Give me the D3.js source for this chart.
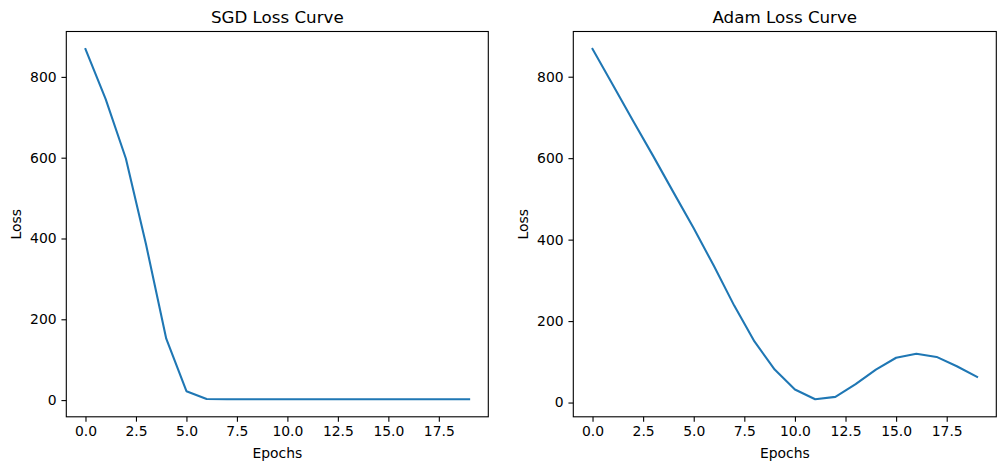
<!DOCTYPE html>
<html>
<head>
<meta charset="utf-8">
<script src="https://cdn.jsdelivr.net/npm/d3@7"></script>
<style>
  html, body { margin: 0; padding: 0; background: #fff; }
  svg { display: block; font-family: "DejaVu Sans", sans-serif; }
</style>
</head>
<body>
<svg id="chart" width="1005" height="470"></svg>
<script>
// ---- data ----
const epochs = d3.range(20);
const sgdLoss = [869, 745, 598, 385, 152, 22, 2.5, 2, 2, 2, 2, 2, 2, 2, 2, 2, 2, 2, 2, 2];
const adamLoss = [868, 780, 692, 605, 516, 428, 335, 238, 150, 81, 32, 8, 14, 45, 81, 110, 120, 112, 89, 63];
const xTicks = [0, 2.5, 5, 7.5, 10, 12.5, 15, 17.5];
const yTicks = [0, 200, 400, 600, 800];
const titles = ["SGD Loss Curve", "Adam Loss Curve"];
const xLabel = "Epochs";
const yLabel = "Loss";

(function () {
const svg = d3.select("#chart");
const panels = [
  { title: titles[0], values: sgdLoss, left: 66.3, right: 488.3 },
  { title: titles[1], values: adamLoss, left: 573.3, right: 996.3 }
];
const plotTop = 31.5, plotBottom = 416.8;
const color = "#1f77b4";
const tickFont = 13.9, titleFont = 16.7;

panels.forEach(p => {
  const xMin = d3.min(epochs), xMax = d3.max(epochs);
  const xm = (xMax - xMin) * 0.05;
  const x = d3.scaleLinear().domain([xMin - xm, xMax + xm]).range([p.left, p.right]);
  const [yLo, yHi] = d3.extent(p.values);
  const ym = (yHi - yLo) * 0.05;
  const y = d3.scaleLinear().domain([yLo - ym, yHi + ym]).range([plotBottom, plotTop]);

  const g = svg.append("g");

  const line = d3.line().x((d, i) => x(epochs[i])).y(d => y(d));
  g.append("path")
    .datum(p.values)
    .attr("d", line)
    .attr("fill", "none")
    .attr("stroke", color)
    .attr("stroke-width", 2.08)
    .attr("stroke-linejoin", "round")
    .attr("stroke-linecap", "square");

  const xAxis = d3.axisBottom(x).tickValues(xTicks).tickFormat(d3.format(".1f"))
    .tickSize(4.86).tickPadding(4.0).tickSizeOuter(0);
  const yAxis = d3.axisLeft(y).tickValues(yTicks).tickFormat(d3.format("d"))
    .tickSize(4.86).tickPadding(4.86).tickSizeOuter(0);

  const gx = g.append("g").attr("transform", `translate(0,${plotBottom})`).call(xAxis);
  const gy = g.append("g").attr("transform", `translate(${p.left},0)`).call(yAxis);
  [gx, gy].forEach(a => {
    a.select(".domain").remove();
    a.selectAll(".tick line").attr("stroke", "#000").attr("stroke-width", 1.1);
    a.selectAll(".tick text").attr("fill", "#000").style("font-size", tickFont + "px")
      .style("font-family", "'DejaVu Sans', sans-serif");
  });

  g.append("rect")
    .attr("x", p.left).attr("y", plotTop)
    .attr("width", p.right - p.left).attr("height", plotBottom - plotTop)
    .attr("fill", "none").attr("stroke", "#000").attr("stroke-width", 1.1);

  g.append("text")
    .attr("x", (p.left + p.right) / 2).attr("y", plotTop - 8.5)
    .attr("text-anchor", "middle")
    .style("font-size", titleFont + "px")
    .text(p.title);

  g.append("text")
    .attr("x", (p.left + p.right) / 2).attr("y", 458)
    .attr("text-anchor", "middle")
    .style("font-size", tickFont + "px")
    .text(xLabel);

  g.append("text")
    .attr("transform", `translate(${p.left - 45},${(plotTop + plotBottom) / 2}) rotate(-90)`)
    .attr("text-anchor", "middle")
    .style("font-size", tickFont + "px")
    .text(yLabel);
});
})();
</script>
</body>
</html>
